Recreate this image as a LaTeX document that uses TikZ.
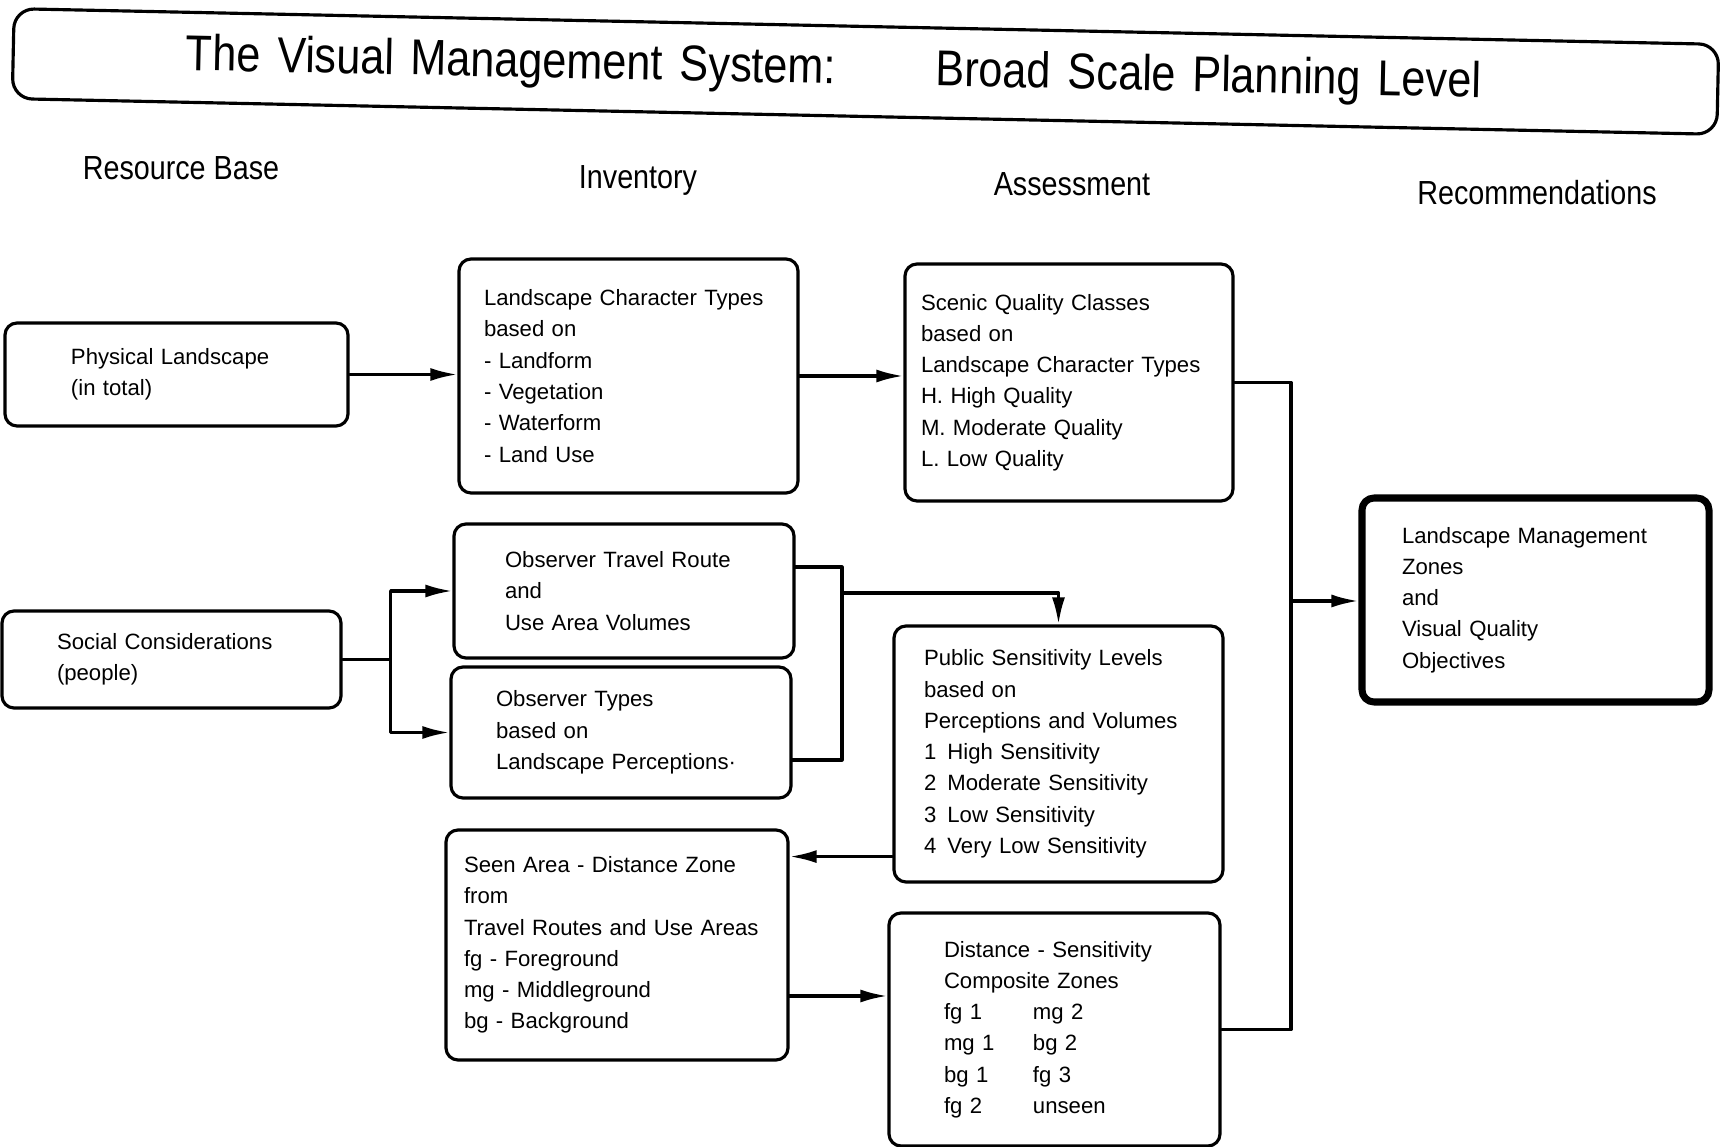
\documentclass[tikz,border=0pt]{standalone}
\usepackage{fontspec}
\setmainfont{Liberation Sans}
\newfontfamily\headfont[FakeStretch=0.86]{Liberation Sans}
\usetikzlibrary{arrows.meta}
\tikzset{
  stage/.style={draw, rounded corners=1.2mm, align=left, inner ysep=0pt,
    font=\fontsize{6.3}{8.9}\selectfont},
  head/.style={anchor=base, font=\headfont\fontsize{9.5}{11}\selectfont},
  titlebox/.style={draw, rounded corners=2mm, align=left, text width=13.59cm,
    inner xsep=1.73cm, minimum height=0.9cm, font=\headfont\fontsize{14.3}{16}\selectfont},
}
\begin{document}
\begin{tikzpicture}[line join=round,line cap=round,line width=0.9pt,>={Latex[length=2.7mm,width=1.3mm]}]
  \useasboundingbox (0,0) rectangle (17.2,-11.47);
  % title and column heads
  \node[titlebox, rotate=-1.2] (title) at (8.655,-0.715) {The Visual Management System:\hspace{1.0cm}Broad Scale Planning Level};
  \node[head] (hbase) at (1.81,-1.80) {Resource Base};
  \node[head] (hinv) at (6.38,-1.89) {Inventory};
  \node[head] (hass) at (10.72,-1.96) {Assessment};
  \node[head] (hrec) at (15.37,-2.05) {Recommendations};
  % resource base
  \node[stage, text width=2.11cm, inner xsep=0.66cm, minimum height=1.03cm] (phys) at (1.765,-3.745) {Physical Landscape\\(in total)};
  \node[stage, text width=2.29cm, inner xsep=0.55cm, minimum height=0.97cm] (social) at (1.715,-6.595) {Social Considerations\\(people)};
  % inventory
  \node[stage, text width=2.89cm, inner xsep=0.25cm, minimum height=2.34cm] (lct) at (6.285,-3.76) {Landscape Character Types\\based on\\- Landform\\- Vegetation\\- Waterform\\- Land Use};
  \node[stage, text width=2.38cm, inner xsep=0.51cm, minimum height=1.34cm] (travel) at (6.24,-5.91) {Observer Travel Route\\and\\Use Area Volumes};
  \node[stage, text width=2.50cm, inner xsep=0.45cm, minimum height=1.31cm] (obstypes) at (6.21,-7.325) {Observer Types\\based on\\Landscape Perceptions·};
  \node[stage, text width=3.06cm, inner xsep=0.18cm, minimum height=2.30cm] (seen) at (6.17,-9.45) {Seen Area - Distance Zone\\from\\Travel Routes and Use Areas\\fg - Foreground\\mg - Middleground\\bg - Background};
  % assessment
  \node[stage, text width=2.96cm, inner xsep=0.16cm, minimum height=2.37cm] (scenic) at (10.69,-3.825) {Scenic Quality Classes\\based on\\Landscape Character Types\\H. High Quality\\M. Moderate Quality\\L. Low Quality};
  \node[stage, text width=2.69cm, inner xsep=0.30cm, minimum height=2.56cm] (public) at (10.585,-7.54) {Public Sensitivity Levels\\based on\\Perceptions and Volumes\\1\enspace High Sensitivity\\2\enspace Moderate Sensitivity\\3\enspace Low Sensitivity\\4\enspace Very Low Sensitivity};
  \node[stage, text width=2.21cm, inner xsep=0.55cm, minimum height=2.33cm] (dist) at (10.545,-10.295) {Distance - Sensitivity\\Composite Zones\\\makebox[0.89cm][l]{fg 1}mg 2\\\makebox[0.89cm][l]{mg 1}bg 2\\\makebox[0.89cm][l]{bg 1}fg 3\\\makebox[0.89cm][l]{fg 2}unseen};
  % recommendations
  \node[stage, line width=2pt, text width=2.67cm, inner xsep=0.40cm, minimum height=2.04cm] (lmz) at (15.355,-6.0) {Landscape Management\\Zones\\and\\Visual Quality\\Objectives};
  \coordinate (bus) at (12.91,-6.01);
  \coordinate (merge) at (8.42,-5.93);
  % connectors
  \draw[->] (phys.east) -- (phys.east -| lct.west);
  \draw[->] (lct.east) -- (lct.east -| scenic.west);
  \draw (scenic.east) -| (bus) |- (dist.east);
  \draw[->] (bus) -- (bus -| lmz.west);
  \draw[->] (social.east) -- ++(0.48,0) |- (travel.west);
  \draw[->] (social.east) ++(0.48,0) |- (obstypes.west);
  \draw ([yshift=2.4mm]travel.east) -| (merge) |- ([yshift=-2.75mm]obstypes.east);
  \draw[->] (merge) -| (public.north);
  \draw[->] ([yshift=2.7mm]public.south west) -- ([yshift=2.7mm]public.south west -| seen.east);
  \draw[->] ([yshift=-5.1mm]seen.east) -- ([yshift=-5.1mm]seen.east -| dist.west);
\end{tikzpicture}
\end{document}
